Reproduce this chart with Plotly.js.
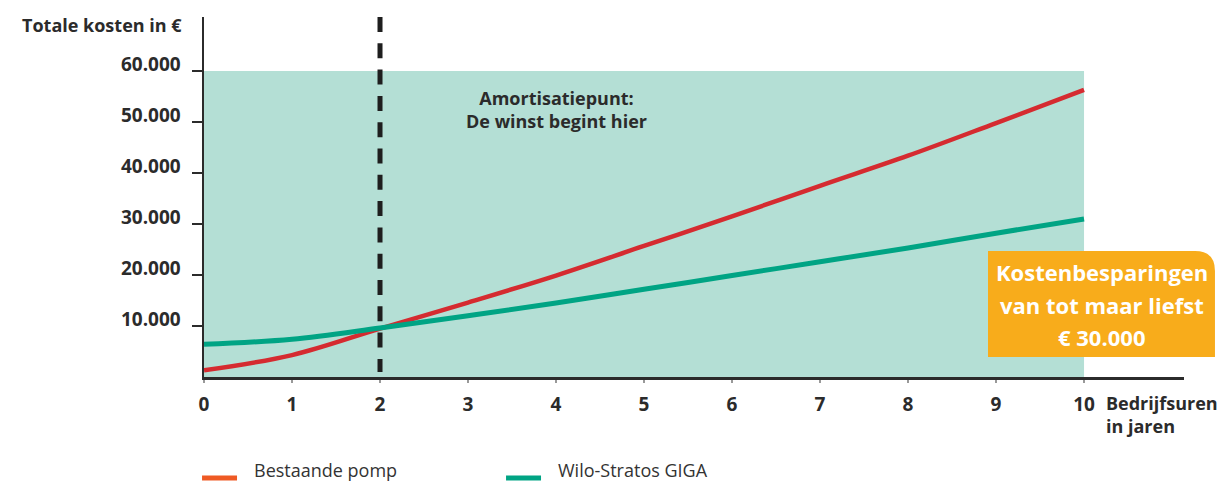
<!DOCTYPE html>
<html>
<head>
<meta charset="utf-8">
<script src="https://cdn.plot.ly/plotly-3.0.1.min.js"></script>
<style>html,body{margin:0;padding:0;background:#fff;}#chart{width:1220px;height:486px;}</style>
</head>
<body>
<div id="chart"></div>
<script>
// Data
const years = [0, 1, 2, 3, 4, 5, 6, 7, 8, 9, 10];
const bestaandePomp = [1300, 4300, 9500, 14600, 19900, 25700, 31500, 37500, 43400, 49800, 56300];
const wiloStratos = [6400, 7400, 9600, 12000, 14500, 17200, 19900, 22600, 25300, 28200, 31000];
const xTickVals = [0, 1, 2, 3, 4, 5, 6, 7, 8, 9, 10];
const xTickText = ['0', '1', '2', '3', '4', '5', '6', '7', '8', '9', '10'];
const yTickVals = [10000, 20000, 30000, 40000, 50000, 60000];
const yTickText = ['10.000', '20.000', '30.000', '40.000', '50.000', '60.000'];
const seriesNames = ['Bestaande pomp', 'Wilo-Stratos GIGA'];
const legendColors = ['#ef5a24', '#00a484'];
const breakEvenYear = 2;
const shadeMaxYear = 10;
const shadeMaxCost = 60000;

const FONT = '"Open Sans", Lato, "DejaVu Sans", sans-serif';
const DARK = '#2b2b2b';

const traces = [
  {x: years, y: bestaandePomp, name: seriesNames[0], type: 'scatter', mode: 'lines', line: {color: '#d52b30', width: 4.5, shape: 'spline'}, showlegend: false, hoverinfo: 'skip'},
  {x: years, y: wiloStratos, name: seriesNames[1], type: 'scatter', mode: 'lines', line: {color: '#00a484', width: 5, shape: 'spline'}, showlegend: false, hoverinfo: 'skip'}
];

// legend (drawn as swatches + labels below the chart)
const legendSwatchX = [[-0.002, 0.0337], [0.3082, 0.3439]];
const legendTextX = [0.049, 0.3592];
const legendShapes = seriesNames.map((n, i) => ({
  type: 'line', xref: 'paper', yref: 'paper',
  x0: legendSwatchX[i][0], x1: legendSwatchX[i][1], y0: -0.2805, y1: -0.2805,
  line: {color: legendColors[i], width: 5}
}));
const legendAnnotations = seriesNames.map((n, i) => ({
  xref: 'paper', yref: 'paper', x: legendTextX[i], y: -0.297, xanchor: 'left', yanchor: 'bottom',
  text: n, showarrow: false, font: {family: FONT, size: 18, color: '#333333'}
}));

const layout = {
  width: 1220, height: 486,
  margin: {l: 204, r: 36, t: 17, b: 109, autoexpand: false},
  paper_bgcolor: '#ffffff', plot_bgcolor: '#ffffff',
  font: {family: FONT, color: DARK},
  showlegend: false,
  xaxis: {
    range: [0, 11.136], showgrid: false, zeroline: false,
    showline: true, linecolor: DARK, linewidth: 2.5,
    tickmode: 'array', tickvals: xTickVals, ticktext: xTickText,
    ticks: 'outside', ticklen: 3, tickwidth: 1.5, tickcolor: '#999999',
    ticklabelstandoff: 6,
    tickfont: {family: FONT, size: 19, color: DARK, weight: 'bold'},
    fixedrange: true
  },
  yaxis: {
    range: [0, 70600], showgrid: false, zeroline: false,
    showline: true, linecolor: DARK, linewidth: 2.5,
    tickmode: 'array', tickvals: yTickVals, ticktext: yTickText,
    ticks: 'outside', ticklen: 10, tickwidth: 2, tickcolor: DARK,
    ticklabelshift: -7, ticklabelstandoff: 7,
    tickfont: {family: FONT, size: 19, color: DARK, weight: 'bold'},
    fixedrange: true
  },
  shapes: [
    {type: 'rect', xref: 'x', yref: 'y', x0: 0, x1: shadeMaxYear, y0: 0, y1: shadeMaxCost,
     fillcolor: '#b4dfd5', line: {width: 0}, layer: 'below'},
    {type: 'line', xref: 'x', yref: 'paper', x0: breakEvenYear, x1: breakEvenYear, y0: 1, y1: 0.014,
     line: {color: '#1e1e1e', width: 5, dash: '15px,11.3px'}, layer: 'above'},
    {type: 'path', xref: 'paper', yref: 'paper',
     path: 'M 0.8,0.0556 L 0.8,0.35 L 1.0112,0.35 Q 1.0316,0.35 1.0316,0.2944 L 1.0316,0.0556 Z',
     fillcolor: '#f8ac1b', line: {width: 0}, layer: 'above'}
  ].concat(legendShapes),
  annotations: [
    {xref: 'paper', yref: 'paper', x: -0.0204, y: 0.978, xanchor: 'right', yanchor: 'middle',
     text: 'Totale kosten in €', showarrow: false,
     font: {family: FONT, size: 18, color: DARK, weight: 'bold'}},
    {xref: 'x', yref: 'paper', x: 4.0, y: 0.742, xanchor: 'center', yanchor: 'middle',
     text: 'Amortisatiepunt:<br>De winst begint hier', showarrow: false, align: 'center',
     font: {family: FONT, size: 18, color: DARK, weight: 'bold'}},
    {xref: 'paper', yref: 'paper', x: 0.916, y: (377 - 272) / 360, xanchor: 'center', yanchor: 'middle',
     text: 'Kostenbesparingen', showarrow: false,
     font: {family: FONT, size: 22, color: '#ffffff', weight: 'bold'}},
    {xref: 'paper', yref: 'paper', x: 0.916, y: (377 - 305) / 360, xanchor: 'center', yanchor: 'middle',
     text: 'van tot maar liefst', showarrow: false,
     font: {family: FONT, size: 22, color: '#ffffff', weight: 'bold'}},
    {xref: 'paper', yref: 'paper', x: 0.916, y: (377 - 337) / 360, xanchor: 'center', yanchor: 'middle',
     text: '€ 30.000', showarrow: false,
     font: {family: FONT, size: 22, color: '#ffffff', weight: 'bold'}},
    {xref: 'paper', yref: 'paper', x: 0.918, y: -0.103, xanchor: 'left', yanchor: 'middle',
     text: 'Bedrijfsuren<br>in jaren', showarrow: false, align: 'left',
     font: {family: FONT, size: 18, color: DARK, weight: 'bold'}}
  ].concat(legendAnnotations)
};

Plotly.newPlot('chart', traces, layout, {displayModeBar: false, staticPlot: true});
</script>
</body>
</html>
